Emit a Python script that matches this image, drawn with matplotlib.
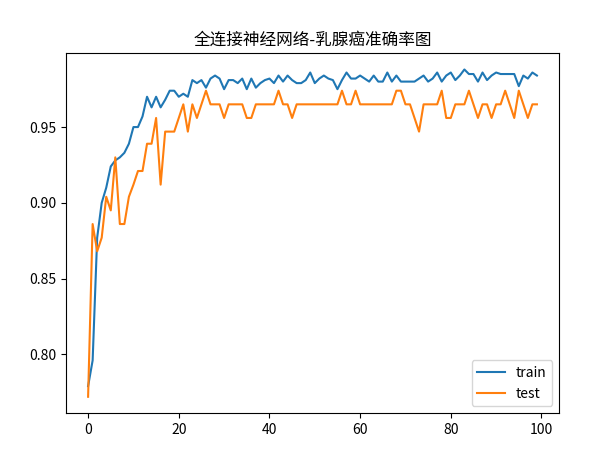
import numpy as np
import matplotlib
matplotlib.use("Agg")
import matplotlib.pyplot as plt

plt.rcParams['font.family'] = ['Noto Sans CJK SC', 'DejaVu Sans']
plt.rcParams['axes.unicode_minus'] = False

train = [0.779, 0.796, 0.877, 0.900, 0.910, 0.924, 0.928, 0.930, 0.933, 0.939,
         0.950, 0.950, 0.957, 0.970, 0.963, 0.970, 0.963, 0.968, 0.974, 0.974,
         0.970, 0.972, 0.970, 0.981, 0.979, 0.981, 0.976, 0.982, 0.984, 0.982,
         0.975, 0.981, 0.981, 0.979, 0.982, 0.975, 0.982, 0.976, 0.979, 0.981,
         0.982, 0.979, 0.984, 0.980, 0.984, 0.981, 0.979, 0.979, 0.981, 0.986,
         0.979, 0.982, 0.984, 0.982, 0.981, 0.975, 0.981, 0.986, 0.982, 0.982,
         0.984, 0.982, 0.980, 0.984, 0.980, 0.980, 0.986, 0.980, 0.984, 0.980,
         0.980, 0.980, 0.980, 0.982, 0.984, 0.980, 0.982, 0.986, 0.980, 0.984,
         0.986, 0.981, 0.984, 0.988, 0.985, 0.985, 0.980, 0.986, 0.981, 0.984,
         0.986, 0.985, 0.985, 0.985, 0.985, 0.977, 0.984, 0.982, 0.986, 0.984]

test = [0.772, 0.886, 0.868, 0.877, 0.904, 0.895, 0.930, 0.886, 0.886, 0.904,
        0.912, 0.921, 0.921, 0.939, 0.939, 0.956, 0.912, 0.947, 0.947, 0.947,
        0.956, 0.965, 0.947, 0.965, 0.956, 0.965, 0.974, 0.965, 0.965, 0.965,
        0.956, 0.965, 0.965, 0.965, 0.965, 0.956, 0.956, 0.965, 0.965, 0.965,
        0.965, 0.965, 0.974, 0.965, 0.965, 0.956, 0.965, 0.965, 0.965, 0.965,
        0.965, 0.965, 0.965, 0.965, 0.965, 0.965, 0.974, 0.965, 0.965, 0.974,
        0.965, 0.965, 0.965, 0.965, 0.965, 0.965, 0.965, 0.965, 0.974, 0.974,
        0.965, 0.965, 0.956, 0.947, 0.965, 0.965, 0.965, 0.965, 0.974, 0.956,
        0.956, 0.965, 0.965, 0.965, 0.974, 0.965, 0.956, 0.965, 0.965, 0.956,
        0.965, 0.965, 0.974, 0.965, 0.956, 0.974, 0.965, 0.956, 0.965, 0.965]

fig, ax = plt.subplots(figsize=(6.08, 4.54), dpi=100)
fig.subplots_adjust(left=0.108, right=0.92, bottom=0.09, top=0.883)
ax.plot(range(len(train)), train, label="train")
ax.plot(range(len(test)), test, label="test")
ax.set_title("全连接神经网络-乳腺癌准确率图")
ax.legend(loc="lower right")
fig.savefig("out.png")
